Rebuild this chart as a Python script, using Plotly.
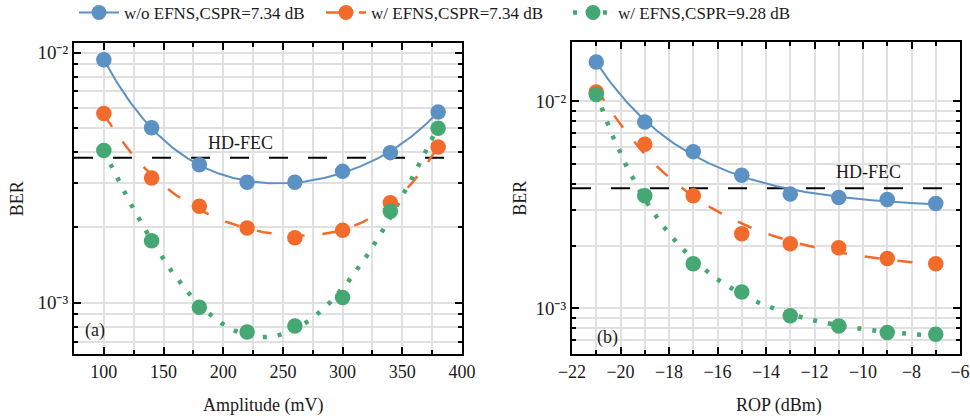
import numpy as np
import plotly.graph_objects as go

W, H = 970, 419

# ---- data -------------------------------------------------------------
# (a) BER versus driving amplitude
amp_mv = [100, 140, 180, 220, 260, 300, 340, 380]
ber_a_wo_efns = [9.35e-3, 5.00e-3, 3.56e-3, 3.03e-3, 3.03e-3, 3.35e-3, 3.98e-3, 5.79e-3]
ber_a_efns_734 = [5.71e-3, 3.15e-3, 2.43e-3, 1.99e-3, 1.82e-3, 1.95e-3, 2.51e-3, 4.19e-3]
ber_a_efns_928 = [4.06e-3, 1.77e-3, 0.96e-3, 0.764e-3, 0.807e-3, 1.05e-3, 2.32e-3, 4.98e-3]

# (b) BER versus received optical power
rop_dbm = [-21, -19, -17, -15, -13, -11, -9, -7]
ber_b_wo_efns = [1.545e-2, 7.93e-3, 5.71e-3, 4.39e-3, 3.56e-3, 3.43e-3, 3.35e-3, 3.21e-3]
ber_b_efns_734 = [1.109e-2, 6.20e-3, 3.50e-3, 2.29e-3, 2.05e-3, 1.96e-3, 1.74e-3, 1.64e-3]
ber_b_efns_928 = [1.077e-2, 3.50e-3, 1.64e-3, 1.20e-3, 0.921e-3, 0.822e-3, 0.764e-3, 0.750e-3]

hd_fec = 3.8e-3

series_names = ["w/o EFNS,CSPR=7.34 dB", "w/ EFNS,CSPR=7.34 dB", "w/ EFNS,CSPR=9.28 dB"]
amp_ticks = [100, 150, 200, 250, 300, 350, 400]
rop_ticks = [-22, -20, -18, -16, -14, -12, -10, -8, -6]
ber_ticks = [1e-3, 1e-2]
ber_tick_text = ["10\u207b\u00b3", "10\u207b\u00b2"]
ber_minor = [7e-4, 8e-4, 9e-4] + [k * 1e-3 for k in range(2, 10)]

# ---- styles -----------------------------------------------------------
colors = ["#5b91c3", "#f26b2b", "#45a771"]
line_styles = [
    dict(width=2, dash="solid"),
    dict(width=2.5, dash="15px,18px"),
    dict(width=4.5, dash="4px,11px"),
]
FONT = "Liberation Serif"
TXT = "#1a1a1a"
GRID = "#e0e0e0"


def poly_fit(x, y, deg=4, n=300):
    """Least-squares polynomial fit of log10(BER)."""
    x = np.asarray(x, float)
    c = np.polyfit(x, np.log10(y), deg)
    xf = np.linspace(x.min(), x.max(), n)
    return xf, 10 ** np.polyval(c, xf)


def exp_fit(x, y, n=300):
    """log10(BER) = a + b*exp(-k*(x - x0)), k by scan, a/b by least squares."""
    x = np.asarray(x, float)
    ly = np.log10(y)
    best = None
    for k in np.linspace(0.02, 3.0, 1500):
        A = np.column_stack([np.ones_like(x), np.exp(-k * (x - x.min()))])
        coef = np.linalg.lstsq(A, ly, rcond=None)[0]
        r = float(np.sum((A @ coef - ly) ** 2))
        if best is None or r < best[0]:
            best = (r, k, coef)
    _, k, coef = best
    xf = np.linspace(x.min(), x.max(), n)
    return xf, 10 ** (coef[0] + coef[1] * np.exp(-k * (xf - x.min())))


fig = go.Figure()

panels = [
    ("x", "y", amp_mv, [ber_a_wo_efns, ber_a_efns_734, ber_a_efns_928], poly_fit, (75, 400)),
    ("x2", "y2", rop_dbm, [ber_b_wo_efns, ber_b_efns_734, ber_b_efns_928], exp_fit, (-22, -6)),
]

for xa, ya, xs, sets, fitter, xr in panels:
    # HD-FEC threshold
    fig.add_trace(go.Scatter(
        x=list(xr), y=[hd_fec, hd_fec], xaxis=xa, yaxis=ya, mode="lines",
        line=dict(color="black", width=2, dash="19px,20px"),
        showlegend=False, hoverinfo="skip"))
    # fitted curves
    for i, ys in enumerate(sets):
        xf, yf = fitter(xs, ys)
        fig.add_trace(go.Scatter(
            x=xf, y=yf, xaxis=xa, yaxis=ya, mode="lines",
            line=dict(color=colors[i], **line_styles[i]),
            showlegend=False, hoverinfo="skip"))
    # measured points
    for i, ys in enumerate(sets):
        fig.add_trace(go.Scatter(
            x=xs, y=ys, xaxis=xa, yaxis=ya, mode="markers",
            marker=dict(color=colors[i], size=15.5, line=dict(width=0)),
            showlegend=False))

# legend entries (line + marker per series)
for i, name in enumerate(series_names):
    fig.add_trace(go.Scatter(
        x=[None], y=[None], mode="lines+markers", name=name,
        line=dict(color=colors[i], **line_styles[i]),
        marker=dict(color=colors[i], size=15)))


def px_x(p):
    return p / W


def px_y(p):
    return 1 - p / H


axis_common = dict(
    showline=True, linecolor="black", linewidth=2, mirror="allticks",
    ticks="inside", ticklen=7, tickwidth=1.5, tickcolor="black",
    showgrid=True, gridcolor=GRID, gridwidth=1.5,
    zeroline=False, automargin=False,
)
minor_common = dict(ticks="inside", ticklen=4, tickwidth=1.5, tickcolor="black",
                    showgrid=True, gridcolor=GRID, gridwidth=1.5)
xtick_font = dict(family=FONT, size=18, color=TXT)
ytick_font = dict(family=FONT, size=19, color=TXT)
title_font = dict(family=FONT, size=18, color=TXT)

fig.update_layout(
    template="none",
    width=W, height=H,
    margin=dict(l=0, r=0, t=0, b=0, pad=0, autoexpand=False),
    paper_bgcolor="white", plot_bgcolor="white",
    font=dict(family=FONT, size=18, color=TXT),
    xaxis=dict(
        domain=[px_x(74), px_x(462)], range=[75, 400], anchor="y",
        tickmode="array", tickvals=amp_ticks, tickfont=xtick_font,
        minor=dict(dtick=25, tick0=0, **minor_common),
        **axis_common),
    yaxis=dict(
        domain=[px_y(354.3), px_y(43)], type="log", range=[-3.206, -1.962], anchor="x",
        tickmode="array", tickvals=ber_ticks, ticktext=ber_tick_text, tickfont=ytick_font,
        minor=dict(tickmode="array", tickvals=ber_minor, **minor_common),
        title=dict(text="BER", font=title_font, standoff=9),
        **axis_common),
    xaxis2=dict(
        domain=[px_x(572), px_x(960)], range=[-22, -6], anchor="y2",
        tickmode="array", tickvals=rop_ticks, tickfont=xtick_font,
        minor=dict(dtick=1, tick0=0, **minor_common),
        **axis_common),
    yaxis2=dict(
        domain=[px_y(354.3), px_y(42)], type="log", range=[-3.222, -1.714], anchor="x2",
        tickmode="array", tickvals=ber_ticks, ticktext=ber_tick_text, tickfont=ytick_font,
        minor=dict(tickmode="array", tickvals=ber_minor, **minor_common),
        title=dict(text="BER", font=title_font, standoff=4),
        **axis_common),
    legend=dict(
        orientation="h", x=px_x(74), xanchor="left", y=px_y(13), yanchor="middle",
        bgcolor="rgba(0,0,0,0)", font=dict(family=FONT, size=17, color=TXT),
        itemwidth=40, entrywidth=192, entrywidthmode="pixels", traceorder="normal"),
    showlegend=True,
)

ann = dict(showarrow=False, xref="paper", yref="paper", font=dict(family=FONT, size=18, color=TXT))
fig.add_annotation(text="Amplitude (mV)", x=px_x(262.5), y=px_y(405), xanchor="center", yanchor="middle", **ann)
fig.add_annotation(text="ROP (dBm)", x=px_x(779), y=px_y(405), xanchor="center", yanchor="middle", **ann)
fig.add_annotation(text="HD-FEC", x=px_x(240), y=px_y(143.3), xanchor="center", yanchor="middle", **ann)
fig.add_annotation(text="HD-FEC", x=px_x(868.5), y=px_y(171.7), xanchor="center", yanchor="middle", **ann)
fig.add_annotation(text="(a)", x=px_x(95), y=px_y(330), xanchor="center", yanchor="middle", **ann)
fig.add_annotation(text="(b)", x=px_x(607), y=px_y(337), xanchor="center", yanchor="middle", **ann)

fig.write_html("out.html")
